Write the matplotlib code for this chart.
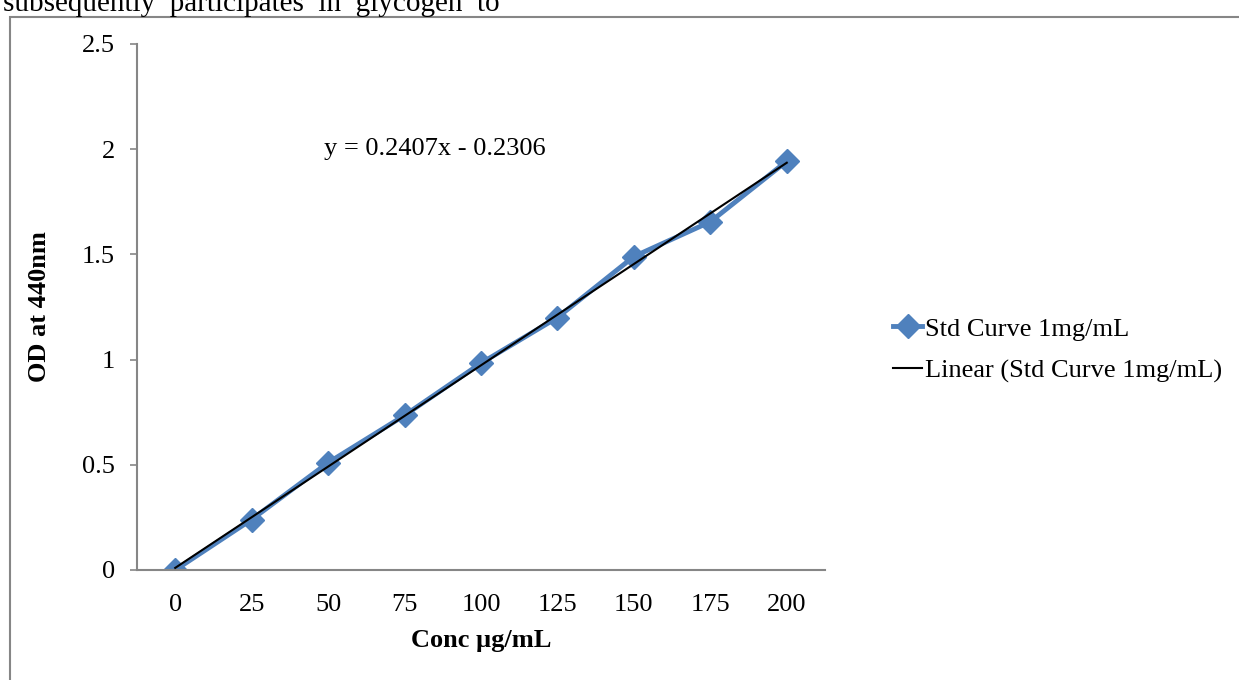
import numpy as np
import matplotlib
matplotlib.use("Agg")
import matplotlib.pyplot as plt
from matplotlib.patches import Rectangle

# Standard curve readings (OD at 440nm)
conc_labels = ["0", "25", "50", "75", "100", "125", "150", "175", "200"]
od_values = [0.0, 0.24, 0.51, 0.735, 0.983, 1.2, 1.49, 1.655, 1.943]
equation = "y = 0.2407x - 0.2306"

plt.rcParams["font.family"] = ["Liberation Serif", "DejaVu Serif"]

fig = plt.figure(figsize=(12.39, 6.8), dpi=100)
ax = fig.add_axes([137 / 1239, 1 - 570 / 680, (825 - 137) / 1239, (570 - 44) / 680])

# Excel-style category axis: points sit at 1..n
x = np.arange(1, len(conc_labels) + 1)
ax.plot(x, od_values, color="#4F81BD", linewidth=3.5, marker="D", markersize=12,
        label="Std Curve 1mg/mL", zorder=2)

# linear trendline fitted on category index
slope, intercept = np.polyfit(x, od_values, 1)
ax.plot(x, slope * x + intercept, color="black", linewidth=1.5,
        label="Linear (Std Curve 1mg/mL)", zorder=3)
ax.text(4.39, 2.0, equation, ha="center", va="center", fontsize=19)

ax.set_xlim(0.5, len(conc_labels) + 0.5)
ax.set_ylim(0, 2.5)
ax.set_xticks(x)
ax.set_xticklabels(conc_labels)
ax.set_yticks([0, 0.5, 1, 1.5, 2, 2.5])
ax.set_yticklabels(["0", "0.5", "1", "1.5", "2", "2.5"])
ax.tick_params(axis="x", length=0, pad=17, labelsize=19)
ax.tick_params(axis="y", length=5, width=1.2, color="#868686", pad=11, labelsize=19)

for s in ["top", "right"]:
    ax.spines[s].set_visible(False)
for s in ["left", "bottom"]:
    ax.spines[s].set_color("#868686")
    ax.spines[s].set_linewidth(1.5)

ax.set_xlabel("Conc µg/mL", fontsize=19, fontweight="bold", labelpad=10)
ax.set_ylabel("OD at 440nm", fontsize=19, fontweight="bold", labelpad=22)

fig.legend(loc="center left", bbox_to_anchor=(893 / 1239, 1 - 350 / 680),
           frameon=False, fontsize=19, handlelength=1.1, handletextpad=0.1,
           labelspacing=0.7, borderpad=0, borderaxespad=0)

# chart area border (cut off by the page crop)
fig.patches.append(Rectangle((10 / 1239, -0.1), 1.2, 1.1 - 17 / 680,
                             transform=fig.transFigure, fill=False,
                             edgecolor="#868686", linewidth=1.5))

# body text from the page above the chart
fig.text(3 / 1239, 1 - 11 / 680, "subsequently  participates  in  glycogen  to",
         fontsize=21, va="baseline", ha="left")

fig.savefig("out.png", dpi=100)
